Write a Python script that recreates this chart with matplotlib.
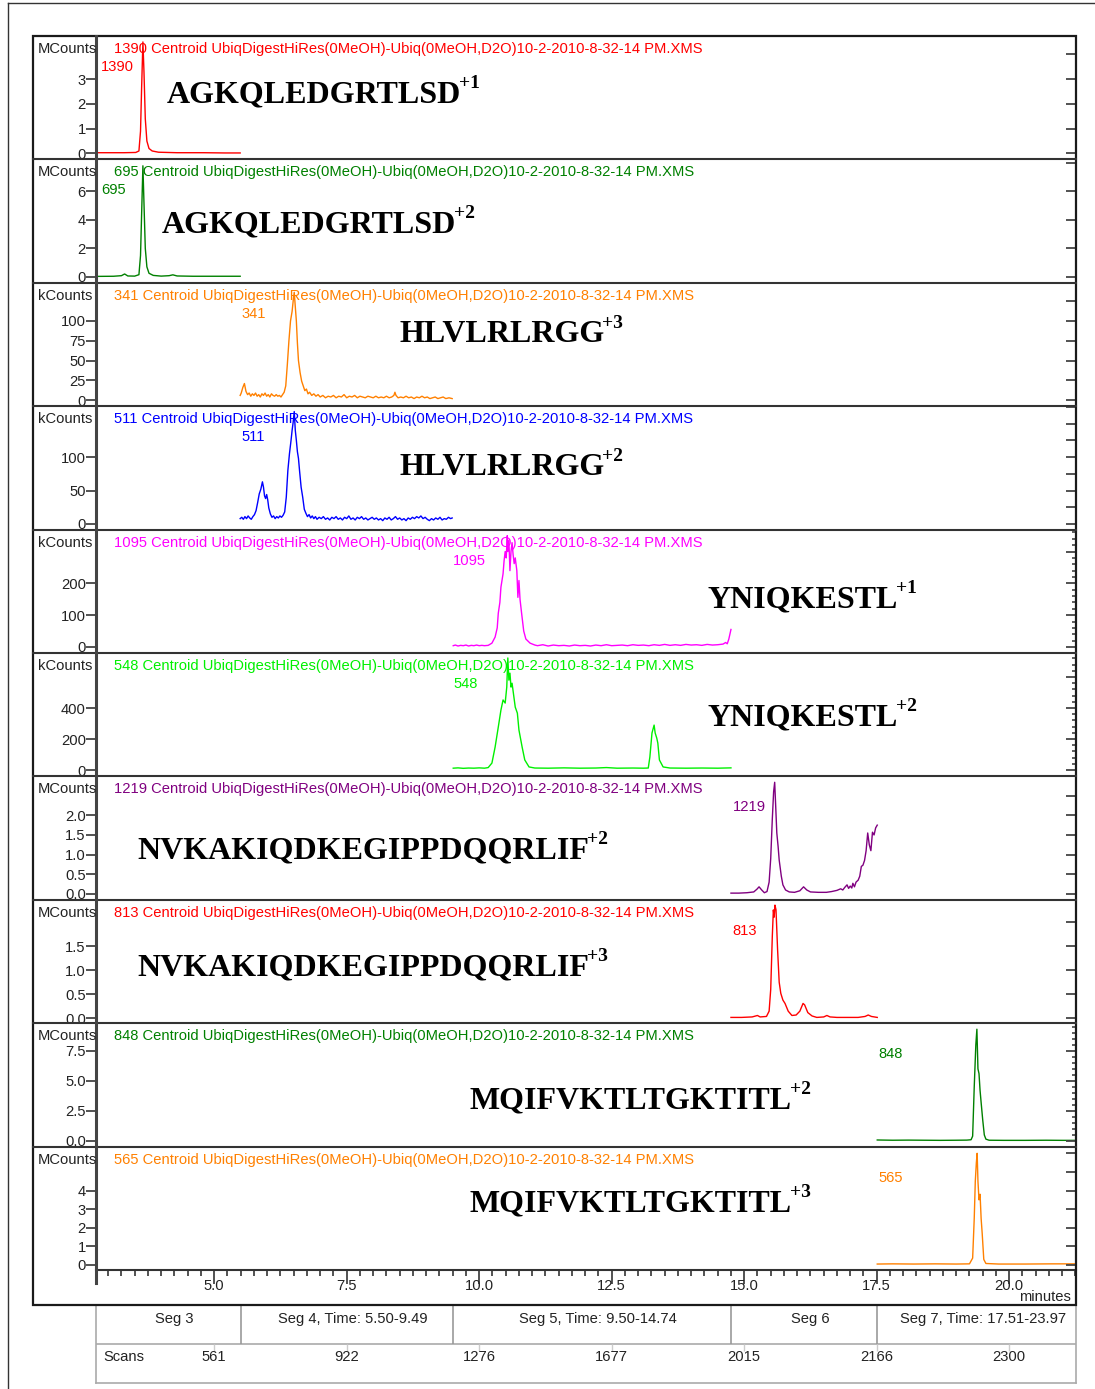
import numpy as np
import matplotlib.pyplot as plt
import matplotlib.transforms as mtransforms
from matplotlib.lines import Line2D
from matplotlib.patches import Rectangle
from matplotlib.text import Annotation
from matplotlib.ticker import MultipleLocator

plt.rcParams['font.family'] = ['Liberation Sans', 'DejaVu Sans']

# retention-time window of the run (minutes)
t_min, t_max = 2.77, 21.26

run_file = 'Centroid UbiqDigestHiRes(0MeOH)-Ubiq(0MeOH,D2O)10-2-2010-8-32-14 PM.XMS'
ions = ['1390', '695', '341', '511', '1095', '548', '1219', '813', '848', '565']
units = ['MCounts', 'MCounts', 'kCounts', 'kCounts', 'kCounts', 'kCounts',
         'MCounts', 'MCounts', 'MCounts', 'MCounts']
peptides = ['AGKQLEDGRTLSD', 'AGKQLEDGRTLSD', 'HLVLRLRGG', 'HLVLRLRGG',
            'YNIQKESTL', 'YNIQKESTL', 'NVKAKIQDKEGIPPDQQRLIF',
            'NVKAKIQDKEGIPPDQQRLIF', 'MQIFVKTLTGKTITL', 'MQIFVKTLTGKTITL']
charges = ['+1', '+2', '+3', '+2', '+1', '+2', '+2', '+3', '+2', '+3']
colors = ['#ff0000', '#008000', '#ff8000', '#0000ff', '#ff00ff',
          '#00f000', '#800080', '#ff0000', '#008000', '#ff8000']

left_ticks = [[0, 1, 2, 3], [0, 2, 4, 6], [0, 25, 50, 75, 100], [0, 50, 100],
              [0, 100, 200], [0, 200, 400], [0.0, 0.5, 1.0, 1.5, 2.0],
              [0.0, 0.5, 1.0, 1.5], [0.0, 2.5, 5.0, 7.5], [0, 1, 2, 3, 4]]
tick_decimals = [0, 0, 0, 0, 0, 0, 1, 1, 1, 0]
right_major = [1, 2, 25, 25, 100, 200, 0.5, 0.5, 2.5, 1]
right_minor = [None, None, None, None, 20, 40, None, None, 0.5, None]
ylims = [(-0.24, 4.74), (-0.42, 8.25), (-7.6, 148), (-8.4, 176), (-19, 369),
         (-41, 755), (-0.15, 2.99), (-0.10, 2.46), (-0.47, 9.8), (-0.27, 6.36)]

# extracted ion chromatograms: (time [min], intensity)
eic_1390 = [(2.77, 0.03), (3.0, 0.03), (3.3, 0.03), (3.52, 0.04), (3.58, 0.1),
            (3.61, 0.9), (3.63, 2.6), (3.655, 4.5), (3.675, 3.3), (3.70, 1.4),
            (3.73, 0.5), (3.77, 0.2), (3.83, 0.1), (3.95, 0.05), (4.3, 0.03),
            (4.8, 0.03), (5.2, 0.02), (5.49, 0.02)]
eic_695 = [(2.77, 0.03), (3.1, 0.04), (3.25, 0.08), (3.31, 0.2), (3.37, 0.06),
           (3.5, 0.05), (3.58, 0.15), (3.61, 1.5), (3.635, 5.0), (3.655, 7.8),
           (3.675, 5.2), (3.70, 2.0), (3.73, 0.7), (3.77, 0.25), (3.85, 0.1),
           (4.0, 0.05), (4.15, 0.08), (4.22, 0.14), (4.3, 0.06), (4.6, 0.04),
           (5.0, 0.04), (5.49, 0.04)]
eic_341 = [(5.49, 6), (5.51, 9), (5.54, 16), (5.57, 21), (5.60, 11), (5.63, 7),
           (5.66, 9), (5.69, 5), (5.72, 8), (5.75, 6), (5.78, 9), (5.81, 5),
           (5.84, 7), (5.87, 4), (5.90, 8), (5.93, 6), (5.96, 9), (5.99, 5),
           (6.02, 7), (6.05, 4), (6.08, 8), (6.11, 6), (6.14, 5), (6.17, 7),
           (6.20, 5), (6.23, 6), (6.26, 4), (6.29, 7), (6.32, 10), (6.35, 18),
           (6.38, 45), (6.41, 75), (6.44, 100), (6.47, 112), (6.49, 125),
           (6.51, 136), (6.53, 118), (6.55, 100), (6.57, 72), (6.59, 50),
           (6.62, 35), (6.65, 24), (6.68, 18), (6.71, 12), (6.74, 14), (6.77, 8),
           (6.80, 10), (6.84, 6), (6.88, 8), (6.92, 5), (6.96, 7), (7.00, 4),
           (7.05, 6), (7.10, 3), (7.15, 5), (7.20, 4), (7.25, 6), (7.30, 3),
           (7.35, 5), (7.40, 4), (7.45, 7), (7.50, 3), (7.55, 5), (7.60, 4),
           (7.65, 6), (7.70, 3), (7.75, 5), (7.80, 4), (7.85, 3), (7.90, 5),
           (7.95, 4), (8.00, 3), (8.05, 5), (8.10, 3), (8.15, 4), (8.20, 3),
           (8.25, 5), (8.30, 3), (8.35, 4), (8.39, 6), (8.41, 10), (8.43, 6),
           (8.47, 3), (8.52, 4), (8.57, 3), (8.62, 5), (8.67, 3), (8.72, 4),
           (8.77, 2), (8.82, 4), (8.87, 3), (8.92, 5), (8.97, 3), (9.02, 4),
           (9.07, 2), (9.12, 3), (9.17, 4), (9.22, 2), (9.27, 3), (9.32, 4),
           (9.37, 2), (9.43, 3), (9.49, 2)]
eic_511 = [(5.49, 8), (5.52, 10), (5.55, 7), (5.58, 11), (5.61, 8), (5.64, 12),
           (5.67, 9), (5.70, 7), (5.73, 11), (5.76, 14), (5.79, 20), (5.82, 32),
           (5.85, 45), (5.88, 52), (5.91, 63), (5.93, 55), (5.95, 42),
           (5.97, 38), (5.99, 44), (6.01, 36), (6.03, 24), (6.06, 15),
           (6.09, 10), (6.12, 12), (6.15, 8), (6.18, 11), (6.21, 9), (6.24, 12),
           (6.27, 10), (6.30, 13), (6.33, 18), (6.36, 40), (6.39, 80),
           (6.42, 105), (6.45, 125), (6.47, 140), (6.49, 152), (6.51, 168),
           (6.53, 140), (6.55, 125), (6.57, 108), (6.59, 98), (6.61, 80),
           (6.64, 55), (6.67, 40), (6.70, 22), (6.73, 16), (6.76, 11),
           (6.79, 14), (6.82, 9), (6.85, 12), (6.88, 8), (6.91, 11), (6.94, 7),
           (6.98, 10), (7.02, 8), (7.06, 11), (7.10, 7), (7.14, 9), (7.18, 6),
           (7.22, 10), (7.26, 8), (7.30, 11), (7.34, 7), (7.38, 9), (7.42, 6),
           (7.46, 10), (7.50, 8), (7.54, 12), (7.58, 7), (7.62, 9), (7.66, 6),
           (7.70, 10), (7.74, 8), (7.78, 11), (7.82, 7), (7.86, 9), (7.90, 6),
           (7.94, 8), (7.98, 10), (8.02, 7), (8.06, 9), (8.10, 6), (8.14, 8),
           (8.18, 5), (8.22, 9), (8.26, 7), (8.30, 10), (8.34, 6), (8.38, 8),
           (8.42, 11), (8.46, 7), (8.50, 9), (8.54, 6), (8.58, 8), (8.62, 5),
           (8.66, 9), (8.70, 7), (8.74, 10), (8.78, 8), (8.82, 11), (8.86, 9),
           (8.90, 12), (8.94, 8), (8.98, 10), (9.02, 7), (9.06, 5), (9.10, 8),
           (9.14, 6), (9.18, 9), (9.22, 7), (9.26, 10), (9.30, 6), (9.34, 8),
           (9.38, 7), (9.42, 10), (9.46, 8), (9.49, 9)]
eic_1095 = [(9.51, 4), (9.55, 6), (9.60, 3), (9.65, 5), (9.70, 4), (9.75, 6),
            (9.80, 3), (9.85, 5), (9.90, 4), (9.95, 6), (10.00, 4), (10.05, 5),
            (10.10, 4), (10.17, 5), (10.24, 12), (10.30, 31), (10.34, 60),
            (10.36, 106), (10.39, 140), (10.41, 188), (10.45, 230), (10.47, 272),
            (10.49, 300), (10.51, 280), (10.53, 350), (10.54, 300), (10.56, 335),
            (10.58, 240), (10.60, 300), (10.62, 328), (10.64, 290), (10.66, 262),
            (10.68, 280), (10.71, 240), (10.73, 156), (10.75, 209), (10.77, 150),
            (10.80, 106), (10.84, 50), (10.88, 25), (10.96, 12), (11.05, 6),
            (11.10, 4), (11.20, 7), (11.30, 3), (11.40, 6), (11.50, 4), (11.60, 5),
            (11.70, 3), (11.80, 6), (11.90, 4), (12.00, 5), (12.10, 3), (12.20, 6),
            (12.30, 4), (12.40, 7), (12.50, 4), (12.60, 5), (12.70, 6), (12.80, 4),
            (12.90, 7), (13.00, 5), (13.10, 6), (13.20, 4), (13.30, 7), (13.40, 5),
            (13.50, 8), (13.60, 5), (13.70, 7), (13.80, 5), (13.90, 8), (14.00, 6),
            (14.10, 7), (14.20, 5), (14.30, 8), (14.40, 6), (14.50, 7), (14.60, 9),
            (14.65, 14), (14.68, 10), (14.71, 25), (14.75, 55)]
eic_548 = [(9.51, 12), (9.60, 14), (9.70, 11), (9.80, 13), (9.90, 12),
           (10.00, 14), (10.10, 12), (10.17, 16), (10.24, 45), (10.30, 148),
           (10.36, 277), (10.41, 387), (10.45, 452), (10.49, 432), (10.52, 535),
           (10.54, 723), (10.56, 580), (10.58, 625), (10.60, 535), (10.62, 560),
           (10.68, 406), (10.72, 367), (10.75, 258), (10.81, 148), (10.86, 65),
           (10.94, 20), (11.05, 13), (11.30, 12), (11.60, 14), (11.90, 12),
           (12.20, 13), (12.40, 16), (12.60, 12), (12.90, 13), (13.10, 12),
           (13.19, 13), (13.22, 84), (13.26, 239), (13.30, 290), (13.32, 239),
           (13.35, 206), (13.37, 174), (13.40, 65), (13.47, 20), (13.60, 13),
           (13.90, 12), (14.20, 13), (14.50, 12), (14.75, 14)]
eic_1219 = [(14.75, 0.02), (14.9, 0.02), (15.05, 0.03), (15.18, 0.05), (15.24, 0.12),
            (15.28, 0.18), (15.33, 0.1), (15.38, 0.03), (15.43, 0.06), (15.47, 0.3),
            (15.50, 0.9), (15.53, 1.9), (15.555, 2.6), (15.575, 2.84),
            (15.595, 2.2), (15.615, 1.55), (15.64, 1.2), (15.66, 0.86),
            (15.70, 0.45), (15.73, 0.23), (15.78, 0.1), (15.85, 0.05), (15.95, 0.04),
            (16.05, 0.08), (16.12, 0.18), (16.18, 0.1), (16.25, 0.05), (16.40, 0.04),
            (16.55, 0.04), (16.65, 0.06), (16.75, 0.09), (16.82, 0.13), (16.86, 0.10),
            (16.90, 0.17), (16.94, 0.23), (16.97, 0.14), (17.00, 0.2), (17.03, 0.15),
            (17.05, 0.27), (17.08, 0.18), (17.11, 0.3), (17.15, 0.35), (17.18, 0.45),
            (17.21, 0.7), (17.24, 0.73), (17.27, 0.85), (17.30, 1.1), (17.33, 1.55),
            (17.36, 1.25), (17.39, 1.1), (17.42, 1.57), (17.45, 1.5), (17.48, 1.68),
            (17.51, 1.75)]
eic_813 = [(14.75, 0.02), (14.95, 0.02), (15.15, 0.03), (15.25, 0.06), (15.30, 0.03),
           (15.42, 0.04), (15.47, 0.15), (15.50, 0.6), (15.53, 1.7), (15.55, 2.25),
           (15.565, 2.1), (15.58, 2.35), (15.60, 2.25), (15.63, 1.42), (15.66, 0.75),
           (15.69, 0.52), (15.73, 0.38), (15.77, 0.31), (15.83, 0.15), (15.90, 0.06),
           (15.98, 0.07), (16.05, 0.15), (16.11, 0.31), (16.14, 0.28), (16.20, 0.12),
           (16.28, 0.05), (16.37, 0.02), (16.50, 0.03), (16.56, 0.06), (16.62, 0.03),
           (16.75, 0.02), (16.95, 0.02), (17.15, 0.02), (17.28, 0.04), (17.34, 0.07),
           (17.40, 0.04), (17.51, 0.02)]
eic_848 = [(17.51, 0.08), (17.8, 0.06), (18.1, 0.07), (18.4, 0.06), (18.7, 0.05),
           (19.0, 0.06), (19.2, 0.07), (19.28, 0.1), (19.31, 0.4), (19.34, 4.5),
           (19.37, 8.0), (19.39, 9.3), (19.41, 6.0), (19.43, 5.6), (19.45, 4.2),
           (19.47, 3.2), (19.50, 1.75), (19.53, 0.5), (19.56, 0.15), (19.62, 0.06),
           (19.9, 0.05), (20.3, 0.05), (20.7, 0.06), (21.0, 0.05), (21.26, 0.05)]
eic_565 = [(17.51, 0.05), (17.8, 0.06), (18.2, 0.05), (18.6, 0.06), (19.0, 0.05),
           (19.25, 0.06), (19.31, 0.37), (19.34, 2.5), (19.36, 4.5), (19.38, 5.5),
           (19.395, 6.0), (19.41, 4.5), (19.43, 3.5), (19.45, 3.8), (19.47, 2.5),
           (19.49, 1.7), (19.52, 0.3), (19.56, 0.08), (19.8, 0.05), (20.3, 0.05),
           (20.8, 0.06), (21.26, 0.06)]
traces = [eic_1390, eic_695, eic_341, eic_511, eic_1095,
          eic_548, eic_1219, eic_813, eic_848, eic_565]

time_ticks = [5.0, 7.5, 10.0, 12.5, 15.0, 17.5, 20.0]
seg_edges = [5.50, 9.50, 14.75, 17.51]
seg_labels = ['Seg 3', 'Seg 4, Time: 5.50-9.49', 'Seg 5, Time: 9.50-14.74',
              'Seg 6', 'Seg 7, Time: 17.51-23.97']
scan_numbers = ['561', '922', '1276', '1677', '2015', '2166', '2300']

# page layout in pixels
W, H = 1095, 1389
box_l, box_r, box_t, box_b = 33, 1076, 36, 1305
plot_l, plot_b = 96, 1270
panel_edges = np.linspace(box_t, plot_b, 11)
ion_label_x = [101, 101, 241, 241, 453, 453, 733, 732, 878, 878]
pep_xy = [(167, 92), (162, 222), (399, 332), (399, 465), (708, 597),
          (708, 715), (137, 848), (137, 965), (470, 1098), (470, 1201)]


def fx(px):
    return px / W


def fy(py):
    return 1 - py / H


fig = plt.figure(figsize=(W / 100, H / 100), dpi=100)
fs = 10.6
ink = '#222222'

for i in range(10):
    top, bot = panel_edges[i], panel_edges[i + 1]
    ax = fig.add_axes([fx(plot_l), fy(bot), fx(box_r) - fx(plot_l), fy(top) - fy(bot)])
    ax.patch.set_visible(False)
    data = np.array(traces[i])
    ax.plot(data[:, 0], data[:, 1], color=colors[i], lw=1.0)
    ax.set_xlim(t_min, t_max)
    ax.set_ylim(*ylims[i])
    for s in ax.spines.values():
        s.set_visible(False)

    labels = [f'{v:.{tick_decimals[i]}f}' for v in left_ticks[i]]
    ax.set_yticks(left_ticks[i], labels)
    ax.tick_params(axis='y', direction='out', length=7, width=1.3, color='#444444',
                   labelsize=fs, labelcolor=ink, pad=0.3)

    tw = ax.twinx()
    tw.set_ylim(*ylims[i])
    for s in tw.spines.values():
        s.set_visible(False)
    tw.yaxis.set_major_locator(MultipleLocator(right_major[i]))
    if right_minor[i]:
        tw.yaxis.set_minor_locator(MultipleLocator(right_minor[i]))
    tw.tick_params(axis='y', which='major', direction='in', length=7, width=1.3,
                   color='#444444', labelright=False)
    tw.tick_params(axis='y', which='minor', direction='in', length=3, width=1.2,
                   color='#444444')

    if i == 9:
        ax.spines['bottom'].set_visible(True)
        ax.spines['bottom'].set_linewidth(1.5)
        ax.spines['bottom'].set_color('#333333')
        ax.set_xticks(time_ticks, [f'{t:.1f}' for t in time_ticks])
        ax.xaxis.set_minor_locator(MultipleLocator(0.25))
        ax.tick_params(axis='x', which='major', direction='out', length=10, width=1.3,
                       color='#444444', labelsize=fs, labelcolor=ink, pad=-3.5)
        ax.tick_params(axis='x', which='minor', direction='out', length=4, width=1.3,
                       color='#444444')
    else:
        ax.set_xticks([])

    fig.text(fx(38), fy(top + 13), units[i], fontsize=fs, color=ink,
             ha='left', va='center')
    fig.text(fx(114), fy(top + 13), f'{ions[i]} {run_file}', fontsize=fs,
             color=colors[i], ha='left', va='center')
    fig.text(fx(ion_label_x[i]), fy(top + 31), ions[i], fontsize=fs,
             color=colors[i], ha='left', va='center')

    px, py = pep_xy[i]
    pep = fig.text(fx(px), fy(py + 10), peptides[i], family='Liberation Serif',
                   fontweight='bold', fontsize=23, color='black', va='baseline')
    fig.add_artist(Annotation(charges[i], xy=(1, 1), xycoords=pep,
                              xytext=(-1.5, 3.5), textcoords='offset points',
                              family='Liberation Serif', fontweight='bold',
                              fontsize=14, color='black', ha='left', va='top'))

# frame, panel separators and the shared intensity axis line
fig.add_artist(Line2D([fx(8), fx(8)], [fy(3), 0], color='#333333', lw=1))
fig.add_artist(Line2D([fx(8), 1], [fy(3), fy(3)], color='#333333', lw=1))
fig.add_artist(Rectangle((fx(box_l), fy(box_b)), fx(box_r) - fx(box_l),
                         fy(box_t) - fy(box_b), fill=False, lw=1.6,
                         ec='#1a1a1a', transform=fig.transFigure))
for e in panel_edges[1:-1]:
    fig.add_artist(Line2D([fx(box_l), fx(box_r)], [fy(e), fy(e)],
                          color='#333333', lw=1.5))
fig.add_artist(Line2D([fx(plot_l), fx(plot_l)], [fy(box_t), fy(1283)],
                      color='#444444', lw=2.2))
fig.text(fx(1071), fy(1297), 'minutes', fontsize=fs, color=ink,
         ha='right', va='center')

# segment / scan table under the time axis
tab = fig.add_axes([fx(plot_l), fy(1383), fx(box_r) - fx(plot_l), fy(box_b) - fy(1383)])
tab.set_xlim(t_min, t_max)
tab.set_ylim(0, 2)
tab.set_xticks([])
tab.set_yticks([])
tab.spines['top'].set_visible(False)
for side in ['left', 'right', 'bottom']:
    tab.spines[side].set_color('#aaaaaa')
    tab.spines[side].set_linewidth(1.2)
tab.axhline(1, color='#aaaaaa', lw=1.2)
tab.vlines(seg_edges, 1, 2, color='#999999', lw=1.2)
tab.vlines(time_ticks, 0.82, 1, color='#cccccc', lw=1.0)

bounds = [t_min] + seg_edges + [t_max]
seg_shift = mtransforms.offset_copy(tab.transData, fig=fig, x=6, y=0, units='dots')
for k, lab in enumerate(seg_labels):
    tab.text((bounds[k] + bounds[k + 1]) / 2, 1.64, lab, transform=seg_shift,
             fontsize=fs, color=ink, ha='center', va='center')
for t, n in zip(time_ticks, scan_numbers):
    tab.text(t, 0.67, n, fontsize=fs, color=ink, ha='center', va='center')
tab.text(7 / 980, 0.67 / 2, 'Scans', transform=tab.transAxes, fontsize=fs,
         color=ink, ha='left', va='center')

fig.savefig('out.png', dpi=100)
